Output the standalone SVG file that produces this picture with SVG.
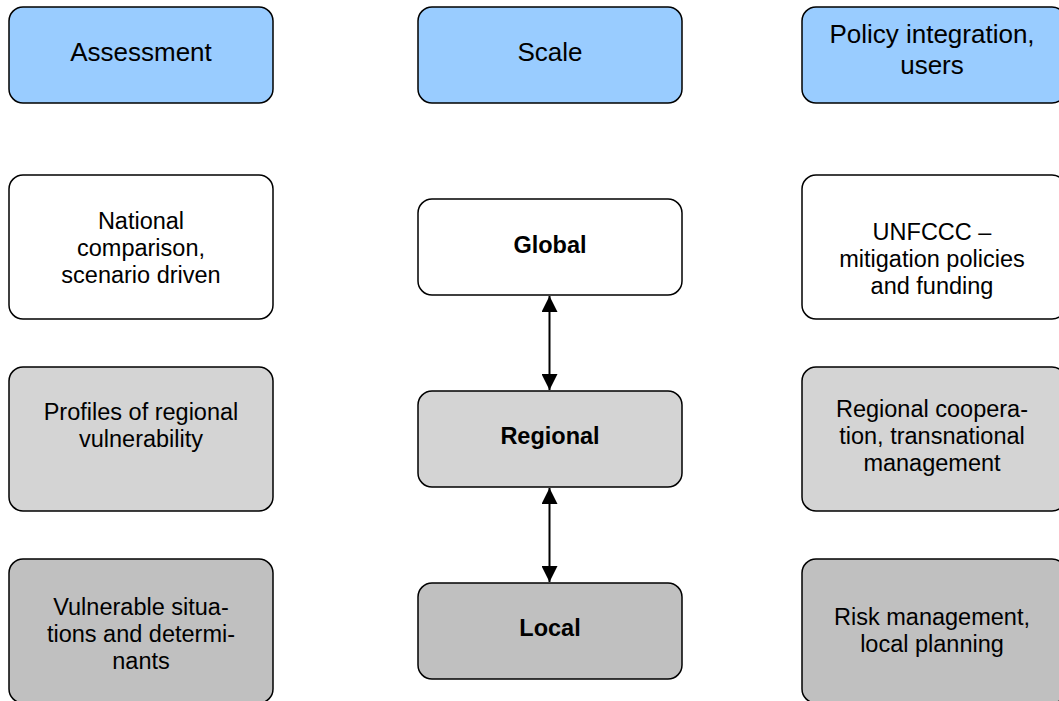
<svg xmlns="http://www.w3.org/2000/svg" width="1059" height="701" viewBox="0 0 1059 701">
<style>
.box{stroke:#000;stroke-width:1.5}
.hd{fill:#99ccff}
.w{fill:#ffffff}
.g1{fill:#d4d4d4}
.g2{fill:#c0c0c0}
text{font-family:"Liberation Sans",Arial,sans-serif;font-size:23.5px;fill:#000;text-anchor:middle}
.h{font-size:26px}
.b{font-weight:bold}
.c{stroke:#000;stroke-width:2;fill:none}
</style>
<defs>
<marker id="ah" viewBox="0 0 16 16" refX="16" refY="8" markerWidth="16" markerHeight="16" markerUnits="userSpaceOnUse" orient="auto-start-reverse">
<path d="M0,0 L16,8 L0,16 z" fill="#000"/>
</marker>
</defs>
<g id="assessment"><rect class="box hd" x="9" y="7" width="264" height="96" rx="14"/><text class="h" x="141" y="61">Assessment</text></g>
<g id="scale"><rect class="box hd" x="418" y="7" width="264" height="96" rx="14"/><text class="h" x="550" y="61">Scale</text></g>
<g id="policy"><rect class="box hd" x="802" y="7" width="264" height="96" rx="14"/><text class="h" x="932" y="43">Policy integration,</text><text class="h" x="932" y="74">users</text></g>

<g id="national"><rect class="box w" x="9" y="175" width="264" height="144" rx="14"/><text x="141" y="229">National</text><text x="141" y="256">comparison,</text><text x="141" y="283">scenario driven</text></g>
<g id="profiles"><rect class="box g1" x="9" y="367" width="264" height="144" rx="14"/><text x="141" y="420">Profiles of regional</text><text x="141" y="447">vulnerability</text></g>
<g id="vulnerable"><rect class="box g2" x="9" y="559" width="264" height="144" rx="14"/><text x="141" y="615">Vulnerable situa-</text><text x="141" y="642">tions and determi-</text><text x="141" y="669">nants</text></g>

<g id="global"><rect class="box w" x="418" y="199" width="264" height="96" rx="14"/><text class="b" x="550" y="253">Global</text></g>
<g id="regional"><rect class="box g1" x="418" y="391" width="264" height="96" rx="14"/><text class="b" x="550" y="444">Regional</text></g>
<g id="local"><rect class="box g2" x="418" y="583" width="264" height="96" rx="14"/><text class="b" x="550" y="636">Local</text></g>

<g id="unfccc"><rect class="box w" x="802" y="175" width="264" height="144" rx="14"/><text x="932" y="240">UNFCCC –</text><text x="932" y="267">mitigation policies</text><text x="932" y="294">and funding</text></g>
<g id="regcoop"><rect class="box g1" x="802" y="367" width="264" height="144" rx="14"/><text x="932" y="417">Regional coopera-</text><text x="932" y="444">tion, transnational</text><text x="932" y="471">management</text></g>
<g id="risk"><rect class="box g2" x="802" y="559" width="264" height="144" rx="14"/><text x="932" y="625">Risk management,</text><text x="932" y="652">local planning</text></g>

<g id="connectors">
<path class="c" d="M549.5,296 L549.5,390" marker-start="url(#ah)" marker-end="url(#ah)"/>
<path class="c" d="M549.5,488 L549.5,582" marker-start="url(#ah)" marker-end="url(#ah)"/>
</g>
</svg>
